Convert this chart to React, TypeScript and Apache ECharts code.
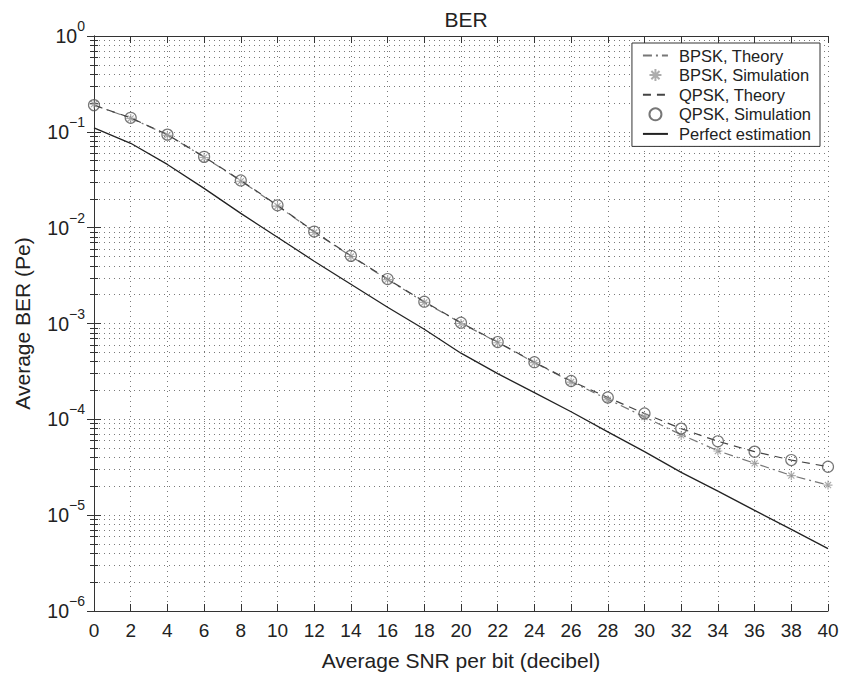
import React, { useEffect, useRef } from "react";
import * as echarts from "echarts";

const snrDb = [0, 2, 4, 6, 8, 10, 12, 14, 16, 18, 20, 22, 24, 26, 28, 30, 32, 34, 36, 38, 40];

const bpskTheory = [0.19, 0.139, 0.093, 0.0545, 0.0308, 0.0169, 0.009, 0.00503, 0.00288, 0.00167, 0.00101, 6.35e-4, 3.92e-4, 2.47e-4, 1.62e-4, 1.06e-4, 6.9e-5, 4.7e-5, 3.48e-5, 2.6e-5, 2.06e-5];
const bpskSim = [0.195, 0.138, 0.092, 0.054, 0.0305, 0.0168, 0.0089, 0.005, 0.00287, 0.00166, 0.001, 6.3e-4, 3.9e-4, 2.45e-4, 1.6e-4, 1.06e-4, 6.8e-5, 4.67e-5, 3.47e-5, 2.59e-5, 2.06e-5];
const qpskTheory = [0.19, 0.14, 0.0935, 0.0548, 0.0311, 0.0171, 0.0091, 0.00508, 0.00291, 0.00169, 0.00102, 6.4e-4, 3.95e-4, 2.51e-4, 1.69e-4, 1.15e-4, 8.0e-5, 5.9e-5, 4.6e-5, 3.76e-5, 3.2e-5];
const qpskSim = [0.19, 0.14, 0.0935, 0.0548, 0.0311, 0.0171, 0.0091, 0.00508, 0.00291, 0.00169, 0.00102, 6.4e-4, 3.95e-4, 2.51e-4, 1.69e-4, 1.15e-4, 8.0e-5, 5.9e-5, 4.6e-5, 3.76e-5, 3.2e-5];
const perfect = [0.11, 0.0759, 0.0457, 0.0257, 0.0141, 0.00794, 0.00447, 0.00257, 0.00148, 8.7e-4, 4.9e-4, 3.0e-4, 1.9e-4, 1.2e-4, 7.4e-5, 4.6e-5, 2.8e-5, 1.78e-5, 1.12e-5, 7.1e-6, 4.47e-6];

const seriesNames = ["BPSK, Theory", "BPSK, Simulation", "QPSK, Theory", "QPSK, Simulation", "Perfect estimation"];
const titleText = "BER";
const xAxisName = "Average SNR per bit (decibel)";
const yAxisName = "Average BER (Pe)";

const FONT = "'Liberation Sans', Arial, Helvetica, sans-serif";
const TXT = "#222";
const STAR = "path://M5,0L5,10M0,5L10,5M1.6,1.6L8.4,8.4M8.4,1.6L1.6,8.4";

const pairs = (ys: number[]) => snrDb.map((x, i) => [x, ys[i]]);

export default function App() {
  const ref = useRef<HTMLDivElement>(null);
  useEffect(() => {
    document.body.style.margin = "0";
    const chart = echarts.init(ref.current!, null, { renderer: "svg" });
    const gridDot = { type: [1, 4] as any, color: "#7a7a7a", width: 1 };
    const axisLineStyle = { show: true, lineStyle: { color: "#333", width: 1 } };
    const yLabel = (v: number) => {
      const e = Math.round(Math.log10(v));
      const s = e < 0 ? "\u2212" + -e : String(e);
      return `{b|10}{s|${s}}`;
    };
    const yCommon = {
      type: "log" as const,
      logBase: 10,
      min: 1e-6,
      max: 1,
      interval: 1,
      axisLine: axisLineStyle,
      axisTick: { show: true, inside: true, length: 7, lineStyle: { color: "#333" } },
      minorTick: { show: true, splitNumber: 9, length: 4, lineStyle: { color: "#333" } },
    };
    const xCommon = {
      type: "value" as const,
      min: 0,
      max: 40,
      interval: 2,
      axisLine: axisLineStyle,
      axisTick: { show: true, inside: true, length: 7, lineStyle: { color: "#333" } },
    };
    const hideSym = { opacity: 0 };
    chart.setOption({
      animation: false,
      backgroundColor: "#fff",
      title: {
        text: titleText,
        left: 461,
        textAlign: "center",
        top: 4,
        textStyle: { fontFamily: FONT, fontSize: 21, fontWeight: "normal", color: TXT },
      },
      grid: { left: 94, right: 14, top: 36, bottom: 63, containLabel: false },
      legend: {
        orient: "vertical",
        right: 22,
        top: 43,
        itemGap: 2.6,
        itemWidth: 25,
        itemHeight: 12,
        padding: [4, 9, 4, 10],
        borderColor: "#333",
        borderWidth: 1,
        backgroundColor: "#fff",
        textStyle: { fontFamily: FONT, fontSize: 16.5, lineHeight: 16, color: TXT, padding: [0, 0, 0, 6] },
        data: [
          { name: seriesNames[0], itemStyle: hideSym },
          { name: seriesNames[1] },
          { name: seriesNames[2], itemStyle: hideSym },
          { name: seriesNames[3] },
          { name: seriesNames[4], itemStyle: hideSym },
        ],
      },
      xAxis: [
        {
          ...xCommon,
          position: "bottom",
          name: xAxisName,
          nameLocation: "middle",
          nameGap: 39,
          nameTextStyle: { fontFamily: FONT, fontSize: 21, color: TXT },
          axisLabel: { fontFamily: FONT, fontSize: 19, color: TXT, margin: 10 },
          splitLine: { show: true, lineStyle: gridDot },
        },
        {
          ...xCommon,
          position: "top",
          axisLabel: { show: false },
          splitLine: { show: false },
        },
      ],
      yAxis: [
        {
          ...yCommon,
          position: "left",
          name: yAxisName,
          nameLocation: "middle",
          nameGap: 61,
          nameTextStyle: { fontFamily: FONT, fontSize: 21, color: TXT },
          axisLabel: {
            formatter: yLabel,
            margin: 9,
            rich: {
              b: { fontFamily: FONT, fontSize: 19.5, color: TXT, lineHeight: 34 },
              s: { fontFamily: FONT, fontSize: 14, color: TXT, lineHeight: 14, verticalAlign: "top" },
            },
          },
          splitLine: { show: true, lineStyle: gridDot },
          minorSplitLine: { show: true, lineStyle: gridDot },
        },
        {
          ...yCommon,
          position: "right",
          axisLabel: { show: false },
          splitLine: { show: false },
        },
      ],
      series: [
        {
          name: seriesNames[0],
          type: "line",
          data: pairs(bpskTheory),
          symbol: "none",
          lineStyle: { color: "#777", width: 1.2, type: [9, 4, 2, 4] },
          itemStyle: { color: "#777" },
          z: 3,
        },
        {
          name: seriesNames[1],
          type: "scatter",
          data: pairs(bpskSim),
          symbol: STAR,
          symbolSize: 9,
          itemStyle: { color: "#999", borderColor: "#999", borderWidth: 1.2 },
          z: 4,
        },
        {
          name: seriesNames[2],
          type: "line",
          data: pairs(qpskTheory),
          symbol: "none",
          lineStyle: { color: "#444", width: 1.2, type: [8, 6] },
          itemStyle: { color: "#444" },
          z: 3,
        },
        {
          name: seriesNames[3],
          type: "scatter",
          data: pairs(qpskSim),
          symbol: "circle",
          symbolSize: 11,
          itemStyle: { color: "rgba(0,0,0,0)", borderColor: "#555", borderWidth: 1.2 },
          z: 5,
        },
        {
          name: seriesNames[4],
          type: "line",
          data: pairs(perfect),
          symbol: "none",
          lineStyle: { color: "#222", width: 1.3, type: "solid" },
          itemStyle: { color: "#222" },
          z: 3,
        },
      ],
    });
    return () => chart.dispose();
  }, []);
  return <div ref={ref} style={{ width: 842, height: 676 }} />;
}
